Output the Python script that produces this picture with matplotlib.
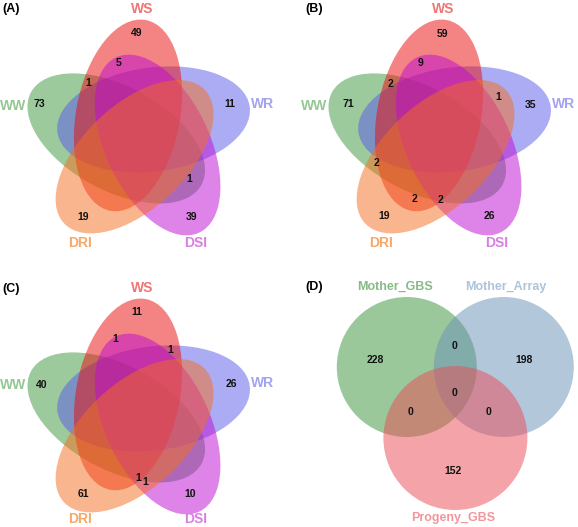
import numpy as np
import matplotlib
matplotlib.use("Agg")
import matplotlib.pyplot as plt
from matplotlib.patches import Ellipse, Circle

plt.rcParams['font.family'] = ['Liberation Sans', 'DejaVu Sans']

# ---- data ----
sets5 = ["WS", "WR", "DSI", "DRI", "WW"]
counts_A = [49, 5, 1, 73, 11, 1, 19, 39]
counts_B = [59, 9, 2, 1, 71, 35, 2, 2, 2, 19, 26]
counts_C = [11, 1, 1, 40, 26, 1, 1, 61, 10]

sets3 = ["Mother_GBS", "Mother_Array", "Progeny_GBS"]
counts_D = [228, 0, 198, 0, 0, 0, 152]

# ---- layout (pixel coords of panel A; B and C are shifted copies) ----
pos_A = [(137, 33), (119, 63), (88, 83), (39, 104), (230, 104), (189, 179), (83, 217), (192, 217)]
pos_B = [(442, 34), (420, 63), (391, 84), (498, 97), (348, 104), (531, 105),
         (377, 163), (415, 199), (441, 200), (384, 216), (489, 216)]
pos_C = [(137, 312), (115, 339), (170, 350), (42, 385), (231, 384),
         (138, 478), (145, 482), (83, 494), (190, 494)]
pos_D = [(375, 360), (454, 346), (524, 360), (455, 393), (411, 412), (488, 412), (453, 471)]

label_pos5 = {"WS": (142, 9), "WR": (263, 104), "DSI": (196, 243), "DRI": (80, 243), "WW": (13, 106)}
col5 = {"WS": (235, 10, 10), "WR": (90, 90, 235), "DSI": (190, 10, 210),
        "DRI": (245, 110, 30), "WW": (60, 150, 60)}
lab5 = {"WS": "#f07676", "WR": "#a3a3f0", "DSI": "#d97fe3", "DRI": "#f7a868", "WW": "#94c794"}
draw_order = ["WW", "WR", "WS", "DSI", "DRI"]

fig = plt.figure(figsize=(5.78, 5.27), dpi=100)
ax = fig.add_axes([0, 0, 1, 1])
ax.set_xlim(0, 578)
ax.set_ylim(527, 0)
ax.axis('off')


def rgb(c):
    return tuple(v / 255 for v in c)


def five_venn(dx, dy, counts, positions, lab_dy=0):
    cx, cy = 138 + dx, 135 + dy
    r, a, b = 22, 97, 52
    for name in draw_order:
        k = sets5.index(name)
        phi = np.deg2rad(117 - 72 * k)
        ex = cx + r * np.cos(phi)
        ey = cy - r * np.sin(phi)
        ang = 117 - 72 * k - 37.5
        # y axis is inverted, so flip the angle
        ax.add_patch(Ellipse((ex, ey), 2 * a, 2 * b, angle=-ang,
                             facecolor=rgb(col5[name]), alpha=0.5, edgecolor='none'))
    for name in sets5:
        x, y = label_pos5[name]
        if name in ("DRI", "DSI"):
            y += lab_dy
        ax.text(x + dx, y + dy, name, ha='center', va='center', fontsize=10,
                fontweight='bold', color=lab5[name])
    for n, (x, y) in zip(counts, positions):
        ax.text(x, y, str(n), ha='center', va='center', fontsize=7.5, fontweight='bold', color='#111111')


five_venn(0, 0, counts_A, pos_A)
five_venn(301, 0, counts_B, pos_B)
five_venn(0, 279, counts_C, pos_C, lab_dy=-3)

# ---- panel D ----
circ_c = [(406.8, 367.0), (503.8, 367.0), (455.4, 438.0)]
circ_r = [70, 70, 72]
circ_col = [(57, 147, 57), (105, 145, 185), (235, 75, 85)]
circ_lab = ["#86bb85", "#adc3da", "#f2969e"]
circ_lab_pos = [(395, 287), (506, 287), (453, 518)]
for (x, y), rr, c in zip(circ_c, circ_r, circ_col):
    ax.add_patch(Circle((x, y), rr, facecolor=rgb(c), alpha=0.5, edgecolor='none'))
for name, (x, y), c in zip(sets3, circ_lab_pos, circ_lab):
    ax.text(x, y, name, ha='center', va='center', fontsize=9, fontweight='bold', color=c)
for n, (x, y) in zip(counts_D, pos_D):
    ax.text(x, y, str(n), ha='center', va='center', fontsize=7.5, fontweight='bold', color='#111111')

for lab, (x, y) in zip(["(A)", "(B)", "(C)", "(D)"], [(2, 9), (305, 9), (2, 289), (305, 287)]):
    ax.text(x, y, lab, ha='left', va='center', fontsize=9, fontweight='bold', color='black')

fig.savefig("out.png", dpi=100)
